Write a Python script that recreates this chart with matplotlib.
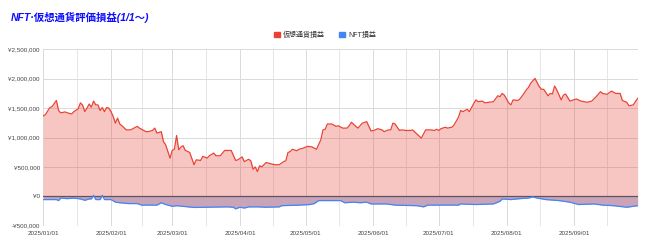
import matplotlib

matplotlib.use("Agg")
import matplotlib.pyplot as plt
import matplotlib.dates as mdates
from matplotlib.patches import Patch
from matplotlib.ticker import FuncFormatter
import numpy as np
import pandas as pd

plt.rcParams["font.family"] = ["Liberation Sans", "Noto Sans CJK JP"]

START = pd.Timestamp("2025-01-01")

# 仮想通貨損益 (days since 2025-01-01, million yen)
crypto_day = [0, 1, 3, 4, 6, 7, 8, 10, 11, 13, 14, 16, 17, 18, 19, 20, 21, 22, 23, 24,
              25, 26, 27, 28, 29, 30, 31, 32, 33, 34, 35, 36, 38, 40, 43, 44, 46, 47, 48, 50,
              51, 52, 54, 55, 56, 58, 59, 60, 61, 62, 63, 64, 65, 67, 69, 70, 72, 73, 75, 76,
              78, 79, 81, 83, 86, 88, 89, 91, 92, 94, 95, 96, 97, 98, 99, 100, 102, 104, 106, 108,
              110, 111, 112, 113, 114, 116, 117, 119, 121, 123, 125, 127, 128, 129, 130, 132, 134, 135, 137, 139,
              140, 141, 143, 144, 146, 148, 150, 152, 153, 155, 156, 158, 159, 160, 161, 163, 164, 166, 168, 169,
              171, 173, 175, 177, 179, 180, 181, 182, 184, 185, 187, 188, 190, 191, 192, 193, 194, 195, 197, 198,
              199, 201, 202, 204, 206, 208, 209, 210, 211, 213, 214, 215, 217, 218, 220, 221, 222, 223, 225, 227,
              228, 229, 231, 232, 233, 234, 235, 237, 238, 239, 241, 244, 246, 249, 251, 253, 255, 256, 258, 260,
              262, 264, 265, 267, 268, 270, 272]
crypto_val = [1.368, 1.39, 1.51, 1.525, 1.63, 1.46, 1.42, 1.435, 1.42, 1.40, 1.44, 1.49, 1.59, 1.55, 1.44, 1.50, 1.57, 1.515, 1.62, 1.555,
              1.555, 1.46, 1.51, 1.44, 1.51, 1.50, 1.44, 1.356, 1.244, 1.33, 1.23, 1.20, 1.13, 1.13, 1.19, 1.16, 1.12, 1.10, 1.10, 1.12,
              1.16, 1.075, 1.10, 0.93, 0.876, 0.65, 0.78, 0.80, 1.034, 0.79, 0.84, 0.86, 0.78, 0.746, 0.537, 0.62, 0.61, 0.68, 0.65, 0.69,
              0.735, 0.69, 0.69, 0.78, 0.78, 0.61, 0.62, 0.67, 0.59, 0.63, 0.60, 0.46, 0.50, 0.42, 0.52, 0.50, 0.575, 0.554, 0.537, 0.537,
              0.59, 0.605, 0.746, 0.76, 0.80, 0.775, 0.80, 0.82, 0.85, 0.84, 0.80, 0.96, 1.13, 1.14, 1.23, 1.23, 1.19, 1.20, 1.16, 1.16,
              1.20, 1.26, 1.19, 1.16, 1.244, 1.27, 1.11, 1.13, 1.15, 1.13, 1.10, 1.13, 1.13, 1.244, 1.23, 1.12, 1.13, 1.12, 1.12, 1.13,
              1.06, 0.99, 1.13, 1.13, 1.12, 1.14, 1.12, 1.15, 1.175, 1.16, 1.175, 1.215, 1.345, 1.46, 1.44, 1.46, 1.48, 1.44, 1.58, 1.64,
              1.61, 1.62, 1.59, 1.60, 1.61, 1.71, 1.695, 1.75, 1.72, 1.59, 1.555, 1.64, 1.63, 1.65, 1.75, 1.81, 1.85, 1.92, 2.006, 1.864,
              1.82, 1.82, 1.71, 1.75, 1.74, 1.876, 1.81, 1.64, 1.72, 1.74, 1.62, 1.656, 1.62, 1.60, 1.62, 1.695, 1.78, 1.75, 1.735, 1.79,
              1.75, 1.75, 1.63, 1.60, 1.54, 1.555, 1.667]

# NFT損益 (days since 2025-01-01, million yen)
nft_day = [0, 6, 7, 8, 11, 14, 17, 19, 21, 22, 23, 24, 26, 27, 28, 31, 33, 35, 39, 43,
           45, 52, 54, 56, 59, 61, 69, 75, 84, 87, 88, 90, 92, 94, 98, 102, 108, 109, 117, 122,
           124, 126, 136, 138, 142, 145, 148, 150, 157, 161, 171, 174, 176, 190, 191, 198, 206, 209, 210, 214,
           218, 222, 224, 226, 230, 236, 241, 245, 252, 256, 261, 267, 272]
nft_val = [-0.056, -0.056, -0.073, -0.03, -0.04, -0.03, -0.045, -0.068, -0.045, -0.045, 0.017, -0.056, -0.056, 0.017, -0.056, -0.056, -0.10, -0.11, -0.124, -0.124,
           -0.15, -0.15, -0.11, -0.14, -0.17, -0.16, -0.19, -0.186, -0.18, -0.186, -0.214, -0.186, -0.20, -0.18, -0.18, -0.186, -0.18, -0.16, -0.15, -0.14,
           -0.124, -0.073, -0.073, -0.11, -0.10, -0.11, -0.10, -0.13, -0.13, -0.15, -0.16, -0.18, -0.15, -0.15, -0.13, -0.14, -0.13, -0.085, -0.045, -0.056,
           -0.04, -0.03, -0.01, -0.03, -0.056, -0.073, -0.10, -0.14, -0.13, -0.15, -0.16, -0.186, -0.16]

TITLE = "NFT·仮想通貨評価損益(1/1～)"
LABELS = ["仮想通貨損益", "NFT損益"]
RED, BLUE = "#ea4335", "#4285f4"


def to_dates(days):
    return START + pd.to_timedelta(days, unit="D")


fig = plt.figure(figsize=(6.5, 2.48), dpi=100)
ax = fig.add_axes([0.0666, 0.090, 0.9144, 0.711])

cx, cy = to_dates(crypto_day), np.array(crypto_val) * 1e6
nx_, ny = to_dates(nft_day), np.array(nft_val) * 1e6

ax.fill_between(cx, 0, cy, color=RED, alpha=0.3, lw=0, zorder=2)
ax.fill_between(nx_, 0, ny, color="#c9a3b8", lw=0, zorder=2)
ax.plot(cx, cy, color=RED, lw=0.9, zorder=4)
ax.plot(nx_, ny, color=BLUE, lw=0.9, zorder=4)
ax.axhline(0, color="#5e5560", lw=0.9, zorder=3)

ax.set_ylim(-500000, 2500000)
ax.set_yticks(np.arange(-500000, 2500001, 500000))
ax.yaxis.set_major_formatter(FuncFormatter(
    lambda v, _: f"¥{v:,.0f}" if v >= 0 else f"-¥{-v:,.0f}"))

ax.set_xlim(START, START + pd.Timedelta(days=272))
months = pd.date_range("2025-01-01", "2025-09-01", freq="MS")
ax.set_xticks(months)
ax.xaxis.set_major_formatter(mdates.DateFormatter("%Y/%m/%d"))
mids = months[:-1] + (months[1:] - months[:-1]) / 2
ax.set_xticks(list(mids) + [months[-1] + pd.Timedelta(days=15)], minor=True)

ax.grid(True, which="major", color="#dadada", lw=0.7, zorder=0)
ax.grid(True, which="minor", axis="x", color="#e6e6e6", lw=0.7, zorder=0)
ax.tick_params(axis="both", which="both", length=0, labelsize=4.5, colors="#444444", pad=2.5)
ax.tick_params(axis="x", pad=3.5)
for s in ax.spines.values():
    s.set_visible(False)

fig.text(0.017, 1 - 17 / 248, TITLE, color="#0d0dff", fontsize=7.5,
         fontweight="bold", fontstyle="italic", va="center", ha="left")

handles = [Patch(color=RED, label=LABELS[0]), Patch(color=BLUE, label=LABELS[1])]
fig.legend(handles=handles, loc="center", bbox_to_anchor=(0.5, 1 - 35 / 248), ncol=2,
           frameon=False, fontsize=5, handlelength=0.8, handleheight=0.8,
           handletextpad=0.5, columnspacing=2.0, labelcolor="#333333")

fig.savefig("out.png", dpi=100)
